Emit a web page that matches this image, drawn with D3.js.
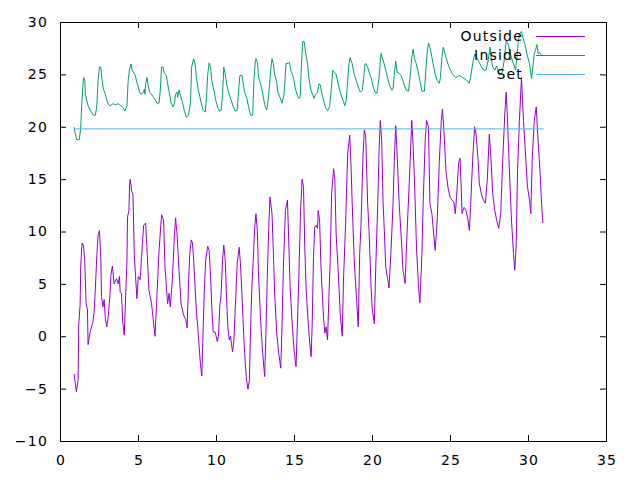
<!DOCTYPE html>
<html>
<head>
<meta charset="utf-8">
<script src="https://cdn.jsdelivr.net/npm/d3@7"></script>
<style>
  body { margin: 0; background: #fff; }
  svg text { font-family: "DejaVu Sans", sans-serif; font-size: 14px; letter-spacing: 1.2px; fill: #000; }
</style>
</head>
<body>
<div id="chart"></div>
<script>
// Values (day of month vs temperature)
var outsideDay = [0.90,1.05,1.16,1.20,1.29,1.33,1.41,1.50,1.59,1.67,
  1.76,1.80,1.93,2.10,2.19,2.27,2.36,2.44,2.53,2.62,
  2.66,2.75,2.83,2.91,3.00,3.09,3.20,3.26,3.36,3.47,
  3.62,3.73,3.81,3.86,3.94,4.03,4.12,4.20,4.29,4.33,
  4.42,4.46,4.50,4.59,4.68,4.76,4.84,4.93,5.02,5.14,
  5.23,5.36,5.49,5.58,5.70,5.87,6.09,6.22,6.35,6.51,
  6.64,6.73,6.82,6.90,6.99,7.07,7.20,7.33,7.41,7.50,
  7.63,7.76,7.93,8.06,8.15,8.23,8.32,8.41,8.49,8.57,
  8.66,8.75,8.83,8.92,9.00,9.09,9.18,9.26,9.34,9.47,
  9.56,9.65,9.73,9.82,9.95,10.08,10.16,10.24,10.33,10.42,
  10.50,10.59,10.68,10.76,10.85,10.93,11.06,11.15,11.23,11.36,
  11.49,11.58,11.66,11.79,11.88,11.96,12.05,12.14,12.22,12.30,
  12.39,12.48,12.56,12.65,12.73,12.86,12.99,13.12,13.20,13.29,
  13.38,13.46,13.59,13.68,13.76,13.89,14.02,14.15,14.23,14.32,
  14.45,14.58,14.66,14.75,14.87,15.00,15.13,15.22,15.31,15.42,
  15.52,15.61,15.69,15.78,15.90,15.99,16.10,16.16,16.25,16.33,
  16.42,16.51,16.55,16.64,16.72,16.80,16.89,16.98,17.06,17.15,
  17.24,17.32,17.41,17.54,17.62,17.70,17.83,17.96,18.09,18.18,
  18.31,18.44,18.57,18.65,18.73,18.86,18.95,19.04,19.12,19.21,
  19.29,19.42,19.51,19.60,19.72,19.81,19.94,20.02,20.15,20.24,
  20.37,20.45,20.53,20.62,20.71,20.79,20.88,21.01,21.09,21.22,
  21.35,21.43,21.52,21.61,21.74,21.87,21.99,22.12,22.21,22.30,
  22.42,22.55,22.64,22.77,22.85,22.98,23.07,23.20,23.28,23.41,
  23.50,23.62,23.71,23.84,23.97,24.05,24.18,24.31,24.44,24.52,
  24.61,24.74,24.87,25.00,25.13,25.25,25.34,25.42,25.55,25.64,
  25.72,25.77,25.90,26.03,26.15,26.24,26.32,26.45,26.58,26.67,
  26.80,26.88,27.01,27.14,27.27,27.40,27.52,27.61,27.74,27.87,
  27.99,28.12,28.25,28.38,28.51,28.60,28.68,28.81,28.94,29.07,
  29.15,29.24,29.33,29.45,29.58,29.71,29.84,29.97,30.10,30.18,
  30.27,30.40,30.53,30.61,30.70,30.78,30.87,30.95];

var outsideTemp = [-3.6,-5.3,-4.2,1.1,3.0,6.7,8.9,8.7,7.1,3.2,
  2.5,-0.8,0.4,1.3,2.3,4.7,7.7,9.6,10.1,7.3,
  3.8,2.8,3.5,1.6,0.9,1.9,3.9,5.8,6.7,5.0,
  5.5,5.0,5.7,4.2,4.1,1.2,0.1,3.5,7.1,11.4,
  12.0,14.4,15.0,13.9,13.5,7.9,5.8,3.6,5.7,5.4,
  7.6,10.6,10.8,8.2,4.4,3.1,0.0,4.1,8.2,11.6,
  11.1,6.6,4.7,3.1,4.1,2.8,5.4,9.5,11.3,9.8,
  6.3,3.1,2.0,1.6,0.8,4.7,7.9,9.2,8.9,7.3,
  4.7,2.2,0.9,-1.0,-2.6,-3.8,0.9,4.7,7.3,8.6,
  8.2,5.7,2.8,0.4,0.4,-0.5,0.0,2.8,4.1,7.3,
  8.7,7.3,3.5,0.9,-0.35,0.0,-1.5,-0.35,2.5,7.0,
  8.5,6.6,4.1,-0.35,-2.6,-4.2,-5.05,-4.2,0.9,4.7,
  7.3,10.4,11.7,10.1,5.7,1.55,-1.6,-3.85,0.3,5.7,
  10.4,13.3,11.7,7.9,4.1,0.3,-1.6,-3.05,0.9,6.6,
  12.0,13.0,9.2,4.7,1.55,-1.3,-2.9,1.2,5.7,12.0,
  15.0,14.2,8.5,4.4,1.55,-0.35,-1.95,0.9,7.6,10.4,
  10.6,10.3,12.0,11.1,7.0,4.4,1.9,0.3,0.9,-0.35,
  3.8,7.3,13.6,16.0,14.9,9.8,6.3,2.2,0.0,5.7,
  10.8,17.4,19.2,16.5,12.7,7.3,5.0,2.8,0.9,7.9,
  10.4,17.1,19.7,19.0,12.7,10.1,4.7,2.5,1.2,6.6,
  12.7,17.7,20.6,18.7,12.7,10.1,6.6,5.4,4.6,8.2,
  12.7,16.8,20.1,17.4,12.7,9.5,6.3,5.05,8.5,11.7,
  15.8,20.6,18.1,12.7,8.5,4.7,3.2,7.9,12.7,18.7,
  20.6,20.0,12.7,11.7,9.5,8.2,11.1,16.5,20.6,21.7,
  19.6,15.8,14.2,13.3,13.0,12.8,11.7,13.3,16.5,17.0,
  14.2,11.7,12.3,12.0,11.1,10.1,12.3,16.8,20.0,19.3,
  16.8,14.6,13.6,13.0,12.7,15.2,19.3,17.4,13.6,12.0,
  11.1,10.3,11.7,16.8,21.2,23.3,20.9,15.8,11.1,7.9,
  6.3,8.5,15.8,20.6,24.7,20.6,17.4,14.2,13.0,11.7,
  16.8,20.6,21.9,19.6,17.4,15.5,12.7,10.8];

var insideDay = [0.90,0.98,1.07,1.24,1.33,1.37,1.46,1.52,1.59,1.63,
  1.72,1.80,1.93,2.01,2.14,2.27,2.36,2.44,2.53,2.62,
  2.70,2.78,2.91,3.00,3.13,3.22,3.39,3.56,3.73,3.90,
  4.07,4.16,4.29,4.37,4.46,4.55,4.63,4.71,4.80,4.93,
  5.02,5.10,5.19,5.36,5.40,5.45,5.49,5.58,5.66,5.74,
  5.87,6.00,6.13,6.22,6.35,6.43,6.51,6.60,6.69,6.82,
  6.90,7.03,7.12,7.25,7.33,7.41,7.50,7.54,7.63,7.72,
  7.85,7.97,8.10,8.23,8.36,8.44,8.57,8.66,8.75,8.87,
  9.05,9.18,9.31,9.39,9.47,9.56,9.65,9.73,9.86,9.99,
  10.12,10.24,10.33,10.42,10.50,10.59,10.72,10.85,10.98,11.11,
  11.23,11.36,11.45,11.53,11.66,11.75,11.83,11.96,12.09,12.22,
  12.35,12.43,12.52,12.56,12.65,12.73,12.86,12.95,13.07,13.16,
  13.25,13.34,13.42,13.51,13.59,13.68,13.76,13.89,13.97,14.10,
  14.23,14.36,14.45,14.49,14.62,14.71,14.79,14.92,15.00,15.09,
  15.22,15.31,15.39,15.48,15.56,15.65,15.74,15.87,15.95,16.08,
  16.21,16.29,16.38,16.51,16.59,16.68,16.80,16.93,17.06,17.15,
  17.28,17.36,17.49,17.58,17.70,17.83,17.96,18.14,18.26,18.35,
  18.44,18.52,18.60,18.73,18.86,18.99,19.12,19.25,19.38,19.47,
  19.55,19.63,19.72,19.81,19.94,20.06,20.19,20.32,20.45,20.58,
  20.66,20.75,20.88,21.01,21.14,21.27,21.35,21.43,21.52,21.61,
  21.74,21.87,21.99,22.08,22.21,22.34,22.46,22.55,22.64,22.72,
  22.81,22.94,23.07,23.20,23.36,23.45,23.54,23.62,23.71,23.80,
  23.92,24.05,24.18,24.31,24.39,24.48,24.57,24.74,24.87,25.00,
  25.16,25.38,25.60,25.81,26.03,26.24,26.32,26.45,26.58,26.71,
  26.88,27.01,27.18,27.31,27.44,27.57,27.65,27.74,27.87,27.99,
  28.08,28.17,28.34,28.47,28.60,28.73,28.81,28.94,29.07,29.20,
  29.28,29.37,29.45,29.58,29.67,29.80,29.93,30.10,30.23,30.31,
  30.40,30.48,30.57,30.66,30.74,30.87,31.00];

var insideTemp = [19.96,19.33,18.76,18.76,19.96,21.4,23.8,24.7,24.4,23.1,
  22.5,22.0,21.6,21.4,21.1,21.1,22.0,24.4,25.7,25.7,
  24.4,23.6,23.1,22.5,22.1,22.0,22.2,22.1,22.2,22.0,
  21.8,21.5,22.0,24.4,25.5,26.0,25.4,25.2,25.0,24.25,
  23.8,23.3,23.1,23.3,23.6,23.1,24.1,24.7,23.9,23.3,
  23.1,22.8,22.5,22.25,22.25,23.5,25.7,25.7,25.1,24.9,
  24.1,23.1,22.3,21.9,22.2,23.1,23.3,22.8,23.5,23.0,
  22.3,21.55,20.9,21.1,22.2,25.7,26.5,26.0,24.6,23.5,
  22.3,21.55,21.4,22.8,25.0,26.1,25.7,24.4,23.5,22.5,
  21.8,21.5,21.55,23.1,25.7,25.0,23.8,23.1,22.5,21.9,
  21.5,21.55,23.5,24.9,24.9,24.1,23.3,22.8,21.9,21.1,
  21.1,24.4,26.3,26.5,26.15,24.7,24.1,23.5,22.5,21.9,
  21.6,22.5,23.8,25.5,26.5,26.0,25.0,24.25,23.3,22.8,
  22.25,23.1,25.0,26.05,26.05,26.15,25.4,24.9,24.4,23.6,
  23.0,22.7,22.8,26.0,28.15,28.15,27.1,26.0,24.7,23.5,
  23.0,22.7,23.1,23.3,24.1,24.0,23.1,22.3,21.7,21.55,
  21.9,23.1,25.4,25.2,25.0,24.1,23.3,22.5,22.0,22.5,
  24.4,26.0,26.6,26.0,25.0,24.4,23.8,23.3,23.5,24.7,
  26.0,26.0,25.7,25.2,24.7,23.9,23.3,23.2,24.7,27.0,
  26.6,26.15,25.4,24.6,23.9,23.5,23.6,25.0,26.25,25.2,
  25.1,24.9,24.4,23.9,23.45,23.4,25.0,26.6,27.4,26.5,
  26.15,25.4,24.4,23.4,23.4,25.4,27.1,28.0,27.6,26.95,
  26.0,25.0,24.4,24.15,24.7,26.6,27.6,26.6,26.0,25.5,
  25.0,24.7,24.9,24.7,24.5,24.15,24.7,26.0,26.95,26.6,
  26.15,25.7,25.4,25.4,26.3,27.6,26.5,25.7,25.4,25.8,
  25.4,24.9,25.2,26.3,28.2,27.9,27.3,26.6,26.0,25.4,
  26.5,28.05,28.85,29.1,28.5,27.9,26.95,26.0,24.6,25.7,
  26.95,27.3,27.85,26.95,27.1,26.8,26.8];

var setDay = [0.90, 31.00];
var setTemp = [19.8, 19.8];

var xTicks = [0, 5, 10, 15, 20, 25, 30, 35];
var yTicks = [-10, -5, 0, 5, 10, 15, 20, 25, 30];

var seriesNames = ["Outside", "Inside", "Set"];
var seriesColors = ["#9400d3", "#009e73", "#56b4e9"];

// Chart setup
var svgWidth = 640;
var svgHeight = 480;
var margin = { top: 22, right: 34, bottom: 39, left: 60 };
var width = svgWidth - margin.left - margin.right;
var height = svgHeight - margin.top - margin.bottom;

var svg = d3.select("#chart")
    .append("svg")
    .attr("width", svgWidth)
    .attr("height", svgHeight);

svg.append("rect")
    .attr("width", svgWidth)
    .attr("height", svgHeight)
    .attr("fill", "#fff");

var chartGroup = svg.append("g")
    .attr("transform", `translate(${margin.left}, ${margin.top})`);

var xLinearScale = d3.scaleLinear().domain([0, 35]).range([0, width]);
var yLinearScale = d3.scaleLinear().domain([-10, 30]).range([height, 0]);

// axes with inward ticks, mirrored on top and right like gnuplot
var bottomAxis = d3.axisBottom(xLinearScale).tickValues(xTicks).tickSize(-6).tickPadding(14);
var leftAxis = d3.axisLeft(yLinearScale).tickValues(yTicks).tickSize(-6).tickPadding(12);
var topAxis = d3.axisTop(xLinearScale).tickValues(xTicks).tickSize(-6).tickFormat("");
var rightAxis = d3.axisRight(yLinearScale).tickValues(yTicks).tickSize(-6).tickFormat("");

function styleAxis(g) {
    g.select(".domain").remove();
    g.selectAll("line").attr("stroke", "#000").attr("stroke-width", 1);
    g.selectAll("text").attr("font-family", null).attr("font-size", null).attr("fill", "#000");
}

var xAxis = chartGroup.append("g").attr("transform", `translate(0, ${height})`).call(bottomAxis).call(styleAxis);
xAxis.selectAll("text").attr("dx", "0.6px");
chartGroup.append("g").call(leftAxis).call(styleAxis);
chartGroup.append("g").call(topAxis).call(styleAxis);
chartGroup.append("g").attr("transform", `translate(${width}, 0)`).call(rightAxis).call(styleAxis);

chartGroup.append("rect")
    .attr("x", 0.5)
    .attr("y", 0.5)
    .attr("width", width)
    .attr("height", height)
    .attr("fill", "none")
    .attr("stroke", "#000")
    .attr("stroke-width", 1);

// series lines
var lineGen = d3.line()
    .x(d => xLinearScale(d[0]))
    .y(d => yLinearScale(d[1]));

var series = [
    d3.zip(outsideDay, outsideTemp),
    d3.zip(insideDay, insideTemp),
    d3.zip(setDay, setTemp)
];

series.forEach((pts, i) => {
    chartGroup.append("path")
        .datum(pts)
        .attr("d", lineGen)
        .attr("fill", "none")
        .attr("stroke", seriesColors[i])
        .attr("stroke-width", 1);
});

// legend, top right
var legendGroup = svg.append("g");
seriesNames.forEach((name, i) => {
    var y = 36 + i * 19;
    legendGroup.append("text")
        .attr("x", 523)
        .attr("y", y)
        .attr("dy", "0.36em")
        .attr("text-anchor", "end")
        .text(name);
    legendGroup.append("line")
        .attr("x1", 536)
        .attr("x2", 585)
        .attr("y1", y + 0.5)
        .attr("y2", y + 0.5)
        .attr("stroke", seriesColors[i])
        .attr("stroke-width", 1);
});
</script>
</body>
</html>
